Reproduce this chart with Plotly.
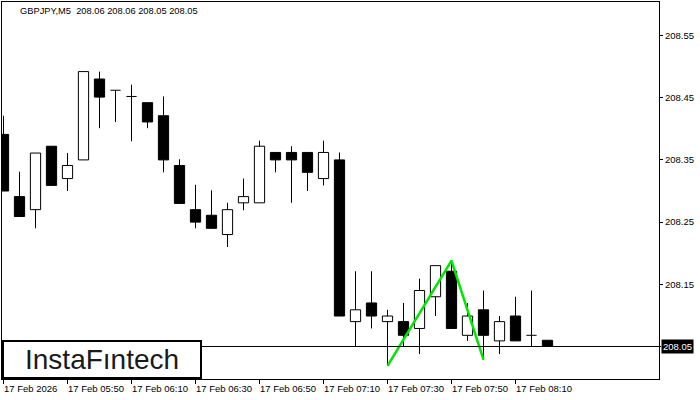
import plotly.graph_objects as go

# ---------------- data ----------------
times = ["05:30", "05:35", "05:40", "05:45", "05:50", "05:55", "06:00", "06:05",
         "06:10", "06:15", "06:20", "06:25", "06:30", "06:35", "06:40", "06:45",
         "06:50", "06:55", "07:00", "07:05", "07:10", "07:15", "07:20", "07:25",
         "07:30", "07:35", "07:40", "07:45", "07:50", "07:55", "08:00", "08:05",
         "08:10", "08:15", "08:20"]
opens = [208.391, 208.291, 208.270, 208.372, 208.320, 208.350, 208.480, 208.462,
         208.452, 208.442, 208.421, 208.341, 208.270, 208.261, 208.230, 208.281,
         208.281, 208.362, 208.362, 208.362, 208.320, 208.350, 208.090, 208.120,
         208.090, 208.090, 208.079, 208.130, 208.171, 208.068, 208.109, 208.059,
         208.099, 208.068, 208.060]
highs = [208.421, 208.331, 208.361, 208.372, 208.361, 208.492, 208.492, 208.462,
         208.471, 208.442, 208.452, 208.351, 208.310, 208.301, 208.281, 208.320,
         208.381, 208.362, 208.372, 208.362, 208.381, 208.362, 208.171, 208.171,
         208.109, 208.120, 208.159, 208.180, 208.188, 208.120, 208.140, 208.099,
         208.130, 208.140, 208.060]
lows = [208.300, 208.259, 208.240, 208.309, 208.300, 208.350, 208.401, 208.411,
        208.380, 208.401, 208.330, 208.280, 208.240, 208.240, 208.210, 208.269,
        208.281, 208.330, 208.281, 208.300, 208.309, 208.099, 208.050, 208.079,
        208.019, 208.050, 208.038, 208.099, 208.079, 208.059, 208.029, 208.038,
        208.059, 208.050, 208.050]
closes = [208.300, 208.259, 208.361, 208.309, 208.341, 208.492, 208.451, 208.462,
          208.452, 208.411, 208.350, 208.280, 208.250, 208.240, 208.270, 208.291,
          208.372, 208.350, 208.350, 208.330, 208.362, 208.099, 208.109, 208.099,
          208.099, 208.068, 208.140, 208.180, 208.079, 208.099, 208.068, 208.090,
          208.059, 208.068, 208.050]

tick_idx = [0, 4, 8, 12, 16, 20, 24, 28, 32]
tick_labels = ["17 Feb 2026", "17 Feb 05:50", "17 Feb 06:10", "17 Feb 06:30",
               "17 Feb 06:50", "17 Feb 07:10", "17 Feb 07:30", "17 Feb 07:50",
               "17 Feb 08:10"]
y_ticks = [208.15, 208.25, 208.35, 208.45, 208.55]
y_tick_labels = ["208.15", "208.25", "208.35", "208.45", "208.55"]

pattern_idx = [24, 28, 30]
pattern_price = [208.019, 208.188, 208.029]
level_price = 208.05
level_label = "208.05"

title_text = "GBPJPY,M5\u00a0\u00a0208.06 208.06 208.05 208.05"
logo_text = "InstaF\u0131ntech"

# ---------------- layout constants ----------------
W, H = 700, 400
ML, MR, MT, MB = 2, 41, 2, 21
PW = W - ML - MR
PH = H - MT - MB
PX_PER_BAR = 16
PX_PER_PRICE = 622
X0 = -1.5 / PX_PER_BAR
X1 = X0 + PW / PX_PER_BAR
Y_TOP = 208.05 + 344.5 / PX_PER_PRICE
Y_BOT = Y_TOP - PH / PX_PER_PRICE
BODY_W = 0.64
FONT = "Liberation Sans, Arial, sans-serif"
SMALL = 9.5


def px_x(p):
    return (p - ML) / PW


def px_y(p):
    return (H - MB - p) / PH


n = len(opens)
xs = list(range(n))

wx, wy = [], []
dx, dy = [], []
bx, bbase, bh, bcol = [], [], [], []
for i in xs:
    o, h, l, c = opens[i], highs[i], lows[i], closes[i]
    top, bot = max(o, c), min(o, c)
    if h > top:
        wx += [i, i, None]
        wy += [h, top, None]
    if l < bot:
        wx += [i, i, None]
        wy += [bot, l, None]
    if abs(c - o) < 1e-9:
        dx += [i - BODY_W / 2, i + BODY_W / 2, None]
        dy += [o, o, None]
    else:
        bx.append(i)
        bbase.append(bot)
        bh.append(top - bot)
        bcol.append("white" if c > o else "black")

fig = go.Figure()
fig.add_trace(go.Scatter(x=wx, y=wy, mode="lines",
                         line=dict(color="black", width=1), hoverinfo="skip"))
fig.add_trace(go.Scatter(x=dx, y=dy, mode="lines",
                         line=dict(color="black", width=1), hoverinfo="skip"))
fig.add_trace(go.Bar(x=bx, y=bh, base=bbase, width=BODY_W,
                     marker=dict(color=bcol, line=dict(color="black", width=1)),
                     hoverinfo="skip"))
fig.add_trace(go.Scatter(x=pattern_idx, y=pattern_price, mode="lines",
                         line=dict(color="#00e600", width=2.5), hoverinfo="skip"))

shapes = [
    dict(type="line", xref="paper", yref="y", x0=0, x1=1 + 2 / PW,
         y0=level_price, y1=level_price, line=dict(color="black", width=1),
         layer="above"),
    dict(type="rect", xref="paper", yref="paper",
         x0=px_x(3), x1=px_x(201), y0=px_y(378), y1=px_y(341),
         line=dict(color="black", width=2), fillcolor="white", layer="above"),
]

annotations = [
    dict(text=title_text, xref="paper", yref="paper", x=px_x(18), y=px_y(11.5),
         xanchor="left", yanchor="middle", showarrow=False,
         font=dict(family=FONT, size=9.3, color="#000000")),
    dict(text=logo_text, xref="paper", yref="paper", x=px_x(102), y=px_y(359.5),
         xanchor="center", yanchor="middle", showarrow=False,
         font=dict(family=FONT, size=28, color="#1a1a1a")),
    dict(text=level_label, xref="paper", yref="y", x=px_x(661), y=level_price,
         xanchor="left", yanchor="middle", showarrow=False, bgcolor="black",
         borderpad=1, font=dict(family=FONT, size=SMALL, color="white")),
]
for ti, tl in zip(tick_idx, tick_labels):
    annotations.append(dict(text=tl, xref="x", yref="paper", x=ti, y=0,
                            xanchor="left", yanchor="top", yshift=-2, xshift=-2,
                            showarrow=False,
                            font=dict(family=FONT, size=SMALL, color="black")))

fig.update_layout(
    width=W, height=H,
    margin=dict(l=ML, r=MR, t=MT, b=MB, pad=0),
    paper_bgcolor="white", plot_bgcolor="white",
    showlegend=False, barmode="overlay",
    shapes=shapes, annotations=annotations,
    xaxis=dict(range=[X0, X1], showgrid=False, zeroline=False,
               showline=True, mirror=True, linecolor="black", linewidth=1,
               ticks="outside", ticklen=4, tickcolor="black", tickwidth=1,
               tickvals=tick_idx, showticklabels=False, fixedrange=True),
    yaxis=dict(range=[Y_BOT, Y_TOP], side="right", showgrid=False, zeroline=False,
               showline=True, mirror=True, linecolor="black", linewidth=1,
               ticks="outside", ticklen=3, tickcolor="black", tickwidth=1,
               tickvals=y_ticks, ticktext=y_tick_labels,
               tickfont=dict(family=FONT, size=SMALL, color="black"),
               fixedrange=True),
)

fig.write_html("out.html", config={"displayModeBar": False},
               post_script="document.body.style.margin='0';document.body.style.overflow='hidden';")
